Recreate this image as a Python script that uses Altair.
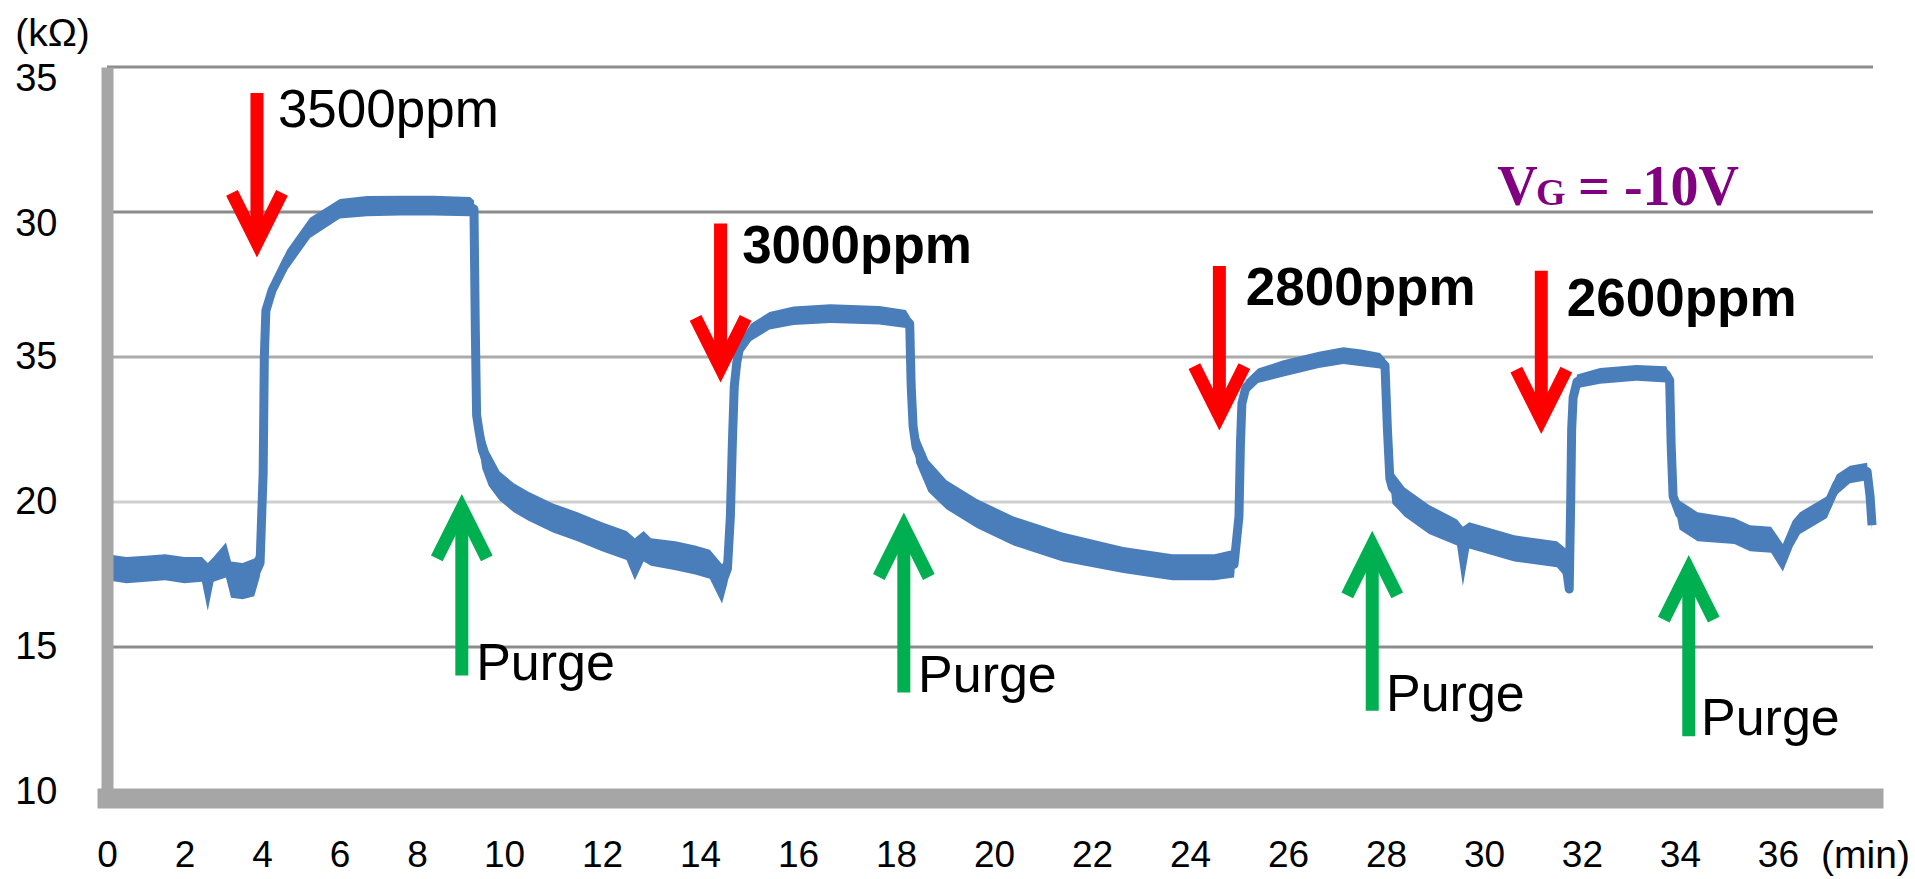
import altair as alt
import pandas as pd

# ---- resistance trace (time in min, resistance in kΩ) ----
# r is the trace centre, lo/hi the edges of the noisy band around it
T = [0.00, 0.50, 1.00, 1.50, 2.00, 2.45, 2.60, 2.75, 3.07, 3.20, 3.50, 3.80, 3.95,
     4.03, 4.06, 4.10, 4.26, 4.65, 5.24, 6.01, 6.71, 7.56, 8.37, 9.22, 9.31,
     9.34, 9.37, 9.42, 9.50, 9.65, 9.90, 10.20, 10.50, 11.00, 11.50, 12.00, 12.50,
     12.67, 12.85, 13.00, 13.50, 13.90, 14.20, 14.45, 14.56,
     14.62, 14.66, 14.70, 14.75, 14.80, 15.04, 15.42, 15.91, 16.66, 17.66, 18.20, 18.28,
     18.31, 18.35, 18.41, 18.66, 19.03, 19.65, 20.40, 21.40, 22.64, 23.64, 24.50, 24.90,
     25.00, 25.03, 25.06, 25.14, 25.39, 25.89, 26.63, 27.13, 27.50, 27.88, 27.98,
     28.03, 28.08, 28.13, 28.38, 28.88, 29.45, 29.57, 29.70, 30.62, 31.49, 31.67, 31.74,
     31.77, 31.79, 31.82, 31.90, 32.37, 33.11, 33.72, 33.79,
     33.82, 33.86, 33.99, 34.36, 35.11, 35.43, 35.86, 36.10, 36.30, 36.45, 37.00,
     37.20, 37.47, 37.82, 37.88, 37.92]
R = [17.75, 17.65, 17.70, 17.75, 17.65, 17.70, 17.20, 17.65, 17.95, 17.40, 17.35, 17.45, 17.90,
     21.00, 25.00, 26.60, 27.30, 28.35, 29.45, 30.10, 30.20, 30.22, 30.22, 30.18, 30.10,
     26.00, 23.00, 22.50, 21.80, 21.20, 20.60, 20.20, 19.90, 19.50, 19.20, 18.85, 18.55,
     18.30, 18.45, 18.30, 18.20, 18.00, 17.85, 17.20, 17.70,
     19.50, 22.00, 24.00, 24.80, 25.25, 25.85, 26.25, 26.42, 26.50, 26.45, 26.30, 26.15,
     24.00, 22.60, 21.90, 20.90, 20.30, 19.60, 19.00, 18.45, 18.00, 17.75, 17.75, 17.85,
     19.50, 22.00, 23.40, 23.95, 24.35, 24.60, 24.90, 25.05, 24.98, 24.88, 24.70,
     22.50, 20.80, 20.50, 20.00, 19.40, 18.95, 18.70, 18.85, 18.40, 18.20, 17.90, 17.00,
     20.00, 22.50, 23.60, 24.15, 24.35, 24.45, 24.40, 24.20,
     22.00, 20.20, 19.60, 19.15, 19.00, 18.75, 18.70, 18.10, 18.90, 19.30, 19.85,
     20.60, 20.95, 21.05, 20.20, 19.20]
LO = [17.30, 17.20, 17.25, 17.30, 17.20, 17.25, 16.25, 17.25, 17.40, 16.70, 16.65, 16.75, 17.45,
      21.00, 25.00, 26.40, 27.00, 28.00, 29.10, 29.78, 29.85, 29.88, 29.88, 29.85, 29.82,
      26.00, 23.00, 21.95, 21.15, 20.55, 20.05, 19.65, 19.35, 18.95, 18.65, 18.30, 18.00,
      17.30, 17.95, 17.80, 17.65, 17.50, 17.35, 16.50, 17.20,
      19.50, 22.00, 24.00, 24.65, 25.00, 25.55, 25.95, 26.10, 26.17, 26.12, 26.00, 25.92,
      24.00, 22.60, 21.35, 20.35, 19.75, 19.10, 18.50, 17.95, 17.55, 17.30, 17.30, 17.40,
      19.50, 22.00, 23.30, 23.70, 24.10, 24.32, 24.62, 24.76, 24.68, 24.60, 24.48,
      22.50, 20.80, 19.95, 19.50, 18.90, 18.50, 17.10, 18.40, 17.95, 17.75, 17.40, 16.85,
      20.00, 22.50, 23.45, 23.92, 24.08, 24.18, 24.12, 24.02,
      22.00, 20.20, 19.05, 18.65, 18.55, 18.30, 18.25, 17.60, 18.45, 18.90, 19.45,
      20.25, 20.65, 20.75, 20.20, 19.00]
HI = [18.20, 18.10, 18.15, 18.20, 18.10, 18.10, 17.90, 18.10, 18.60, 17.95, 17.90, 18.05, 18.35,
      21.00, 25.00, 26.80, 27.60, 28.70, 29.80, 30.45, 30.55, 30.56, 30.56, 30.52, 30.40,
      26.00, 23.00, 23.15, 22.45, 21.75, 21.05, 20.65, 20.35, 19.95, 19.65, 19.30, 19.00,
      18.75, 19.00, 18.75, 18.65, 18.50, 18.35, 17.85, 18.15,
      19.50, 22.00, 24.00, 24.95, 25.50, 26.15, 26.55, 26.74, 26.82, 26.76, 26.62, 26.40,
      24.00, 22.60, 22.45, 21.45, 20.75, 20.10, 19.50, 18.95, 18.45, 18.20, 18.20, 18.35,
      19.50, 22.00, 23.50, 24.20, 24.60, 24.88, 25.18, 25.34, 25.26, 25.14, 24.94,
      22.50, 20.80, 21.05, 20.50, 19.90, 19.40, 19.15, 19.30, 18.85, 18.65, 18.40, 17.15,
      20.00, 22.50, 23.75, 24.40, 24.62, 24.72, 24.68, 24.40,
      22.00, 20.20, 20.05, 19.65, 19.45, 19.20, 19.15, 18.55, 19.35, 19.65, 20.20,
      20.95, 21.25, 21.35, 20.20, 19.40]

# ---- gas-in arrows (red, pointing down) and purge arrows (green, pointing up) ----
GAS_T = [3.87, 14.42, 24.60, 31.17]
GAS_TOP = [34.10, 29.60, 28.14, 27.97]
GAS_TIP = [28.45, 24.14, 22.48, 22.36]

PURGE_T = [9.03, 18.16, 27.72, 34.18]
PURGE_TIP = [20.26, 19.62, 18.99, 18.15]
PURGE_BOTTOM = [14.02, 13.43, 12.80, 11.92]

# ---- annotation texts ----
PPM_TEXT = ["3500ppm", "3000ppm", "2800ppm", "2600ppm"]
PPM_T = [4.41, 14.86, 25.14, 31.69]
PPM_R = [32.93, 28.24, 26.79, 26.41]
PPM_BOLD = [False, True, True, True]

PURGE_TEXT = ["Purge", "Purge", "Purge", "Purge"]
PURGE_TEXT_T = [9.36, 18.45, 28.00, 34.43]
PURGE_TEXT_R = [13.86, 13.45, 12.79, 11.97]

VG_TEXT = ["V", "G", "= -10V"]
VG_T = [30.27, 31.06, 31.92]
VG_R = [30.24, 30.24, 30.24]
VG_SIZE = [56, 38, 56]

# ---- horizontal grid lines ----
GRID_R = [35, 30, 25, 20, 15]
GRID_COLOR = ["#8c8c8c", "#8a8a8a", "#ababab", "#cfcfcf", "#8c8c8c"]

X_TICKS = list(range(0, 37, 2))
Y_TICKS = [10, 15, 20, 25, 30, 35]

FONT = "Liberation Sans, Arial, sans-serif"
BLUE = "#4a7ebb"
RED = "#ff0000"
GREEN = "#00b050"

trace = pd.DataFrame({"t": T, "r": R, "lo": LO, "hi": HI})
gas = pd.DataFrame({"t": GAS_T, "top": GAS_TOP, "tip": GAS_TIP})
purge = pd.DataFrame({"t": PURGE_T, "tip": PURGE_TIP, "bottom": PURGE_BOTTOM})
ppm = pd.DataFrame({"label": PPM_TEXT, "t": PPM_T, "r": PPM_R, "bold": PPM_BOLD})
purge_txt = pd.DataFrame({"label": PURGE_TEXT, "t": PURGE_TEXT_T, "r": PURGE_TEXT_R})
vg = pd.DataFrame({"label": VG_TEXT, "t": VG_T, "r": VG_R, "size": VG_SIZE})
grid = pd.DataFrame({"r": GRID_R, "color": GRID_COLOR})

# time axis is stretched after 8 min, so the scale is piecewise linear
x_scale = alt.Scale(domain=[0, 8, 10, 37.94], range=[0, 310, 397, 1766], nice=False, zero=False)
y_scale = alt.Scale(domain=[10, 35], nice=False, zero=False)

x_axis = alt.Axis(
    values=X_TICKS, grid=False, ticks=False, tickSize=0,
    domainColor="#a6a6a6", domainWidth=20, domainCap="square", offset=6,
    labelFont=FONT, labelFontSize=37, labelColor="black", labelPadding=57,
    labelBaseline="middle", labelFlush=False, labelOverlap=False,
    title="(min)", titleX=1758, titleY=57, titleAngle=0, titleAlign="center",
    titleBaseline="middle", titleFont=FONT, titleFontSize=39,
    titleFontWeight="normal", titleColor="black", zindex=1,
)
y_axis = alt.Axis(
    values=Y_TICKS, labelExpr="datum.value == 25 ? '35' : datum.label",
    grid=False, ticks=False, tickSize=0,
    domainColor="#a6a6a6", domainWidth=12,
    labelFont=FONT, labelFontSize=38, labelColor="black", labelPadding=50,
    labelOffset={"condition": {"test": "datum.value >= 30", "value": 12}, "value": 0},
    labelBaseline="middle", labelAlign="right", labelFlush=False, labelOverlap=False,
    title="(kΩ)", titleX=-55, titleY=-34, titleAngle=0, titleAlign="center",
    titleBaseline="middle", titleFont=FONT, titleFontSize=39,
    titleFontWeight="normal", titleColor="black", zindex=1,
)


def X(field):
    return alt.X(field, type="quantitative", scale=x_scale, axis=x_axis)


def Y(field):
    return alt.Y(field, type="quantitative", scale=y_scale, axis=y_axis)


grid_layer = alt.Chart(grid).mark_rule(strokeWidth=3).encode(
    y=Y("r"), color=alt.Color("color:N", scale=None)
)

band = alt.Chart(trace).mark_area(color=BLUE, opacity=1).encode(
    x=X("t"), y=Y("lo"), y2="hi"
)
line = alt.Chart(trace).mark_line(color=BLUE, strokeWidth=9, strokeJoin="round").encode(
    x=X("t"), y=Y("r")
)

gas_shaft = alt.Chart(gas).mark_rule(color=RED, strokeWidth=13, y2Offset=-16).encode(
    x=X("t"), y=Y("top"), y2="tip"
)
gas_head = alt.Chart(gas).mark_point(
    shape="M -1 -2 L 0 0 L 1 -2", filled=False, size=2500, strokeWidth=13,
    color=RED, opacity=1, yOffset=-14, strokeJoin="miter",
).encode(x=X("t"), y=Y("tip"))

purge_shaft = alt.Chart(purge).mark_rule(color=GREEN, strokeWidth=13, y2Offset=16).encode(
    x=X("t"), y=Y("bottom"), y2="tip"
)
purge_head = alt.Chart(purge).mark_point(
    shape="M -1 2 L 0 0 L 1 2", filled=False, size=2500, strokeWidth=13,
    color=GREEN, opacity=1, yOffset=14, strokeJoin="miter",
).encode(x=X("t"), y=Y("tip"))

ppm_regular = alt.Chart(ppm[~ppm["bold"]]).mark_text(
    font=FONT, fontSize=53, align="left", baseline="alphabetic", color="black"
).encode(x=X("t"), y=Y("r"), text="label")
ppm_bold = alt.Chart(ppm[ppm["bold"]]).mark_text(
    font=FONT, fontSize=53, fontWeight="bold", align="left", baseline="alphabetic", color="black"
).encode(x=X("t"), y=Y("r"), text="label")

purge_label = alt.Chart(purge_txt).mark_text(
    font=FONT, fontSize=52, align="left", baseline="alphabetic", color="black"
).encode(x=X("t"), y=Y("r"), text="label")

vg_label = alt.Chart(vg).mark_text(
    font="Liberation Serif, Times New Roman, serif", fontWeight="bold",
    align="left", baseline="alphabetic", color="#800080",
).encode(x=X("t"), y=Y("r"), text="label", size=alt.Size("size:Q", scale=None))

chart = alt.layer(
    grid_layer, band, line, gas_shaft, gas_head, purge_shaft, purge_head,
    ppm_regular, ppm_bold, purge_label, vg_label,
).properties(
    width=1766, height=725,
    autosize=alt.AutoSizeParams(type="none"),
    padding={"left": 107, "top": 67, "right": 42, "bottom": 87},
    background="white",
).configure_view(stroke=None)

chart.save("out.html", embed_options={"renderer": "svg", "actions": False})
